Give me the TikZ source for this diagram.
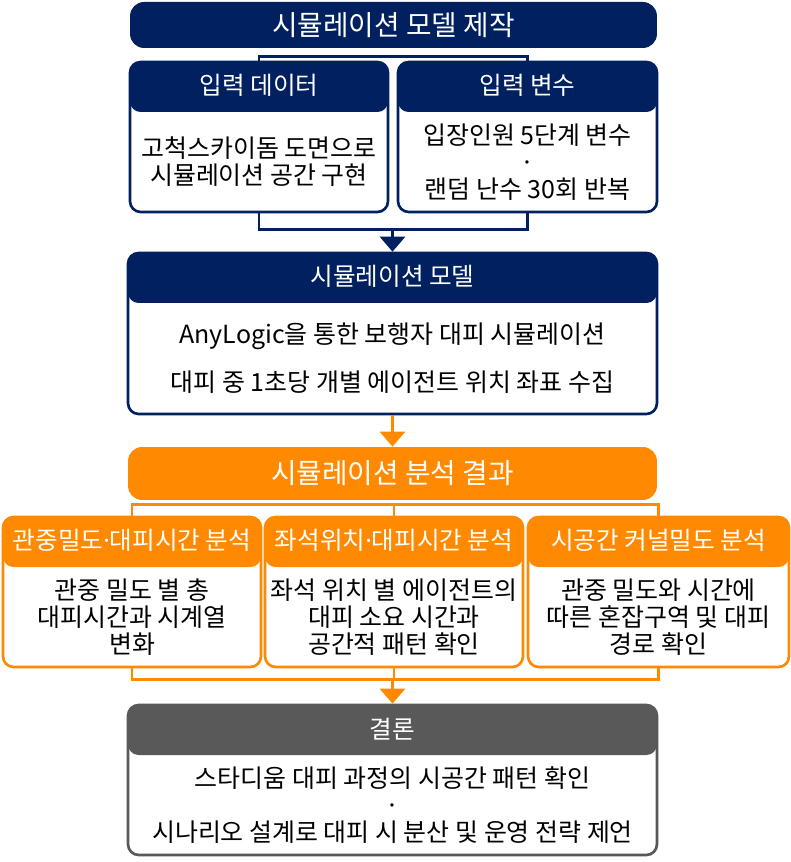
\documentclass[tikz,border=0pt]{standalone}
\usepackage{fontspec}
\setmainfont{Noto Sans CJK KR}
\newfontfamily\latinfont{Noto Sans}
\usetikzlibrary{arrows.meta, positioning, calc}
\definecolor{simnavy}{RGB}{0, 32, 96}
\definecolor{simorange}{RGB}{255, 137, 0}
\definecolor{simgray}{RGB}{89, 89, 89}
\newcommand{\middot}{{\latinfont ·}}

\tikzset{
  panel/.style={draw=#1, fill=white, line width=1.5pt, rounded corners=6pt, inner sep=0pt,
    path picture={\fill[#1] (path picture bounding box.north west) rectangle ([yshift=-1cm]path picture bounding box.north east);}},
  banner/.style={fill=#1, rounded corners=8pt, inner sep=0pt, text=white, font=\fontsize{15.8}{18}\selectfont},
  head/.style={text=white, inner sep=0pt, font=\fontsize{14}{16}\selectfont},
  body/.style={align=center, inner sep=0pt, font=\fontsize{14.2}{15.5}\selectfont},
  link/.style={draw=#1, line width=1.7pt},
  flow/.style={draw=#1, line width=1.7pt, -{Triangle[width=0.5cm,length=0.3cm]}}
}

\begin{document}
\begin{tikzpicture}[x=0.02cm, y=0.02cm]
\useasboundingbox (0,0) rectangle (791,862);

% Model building
\node[banner=simnavy, minimum width=10.54cm, minimum height=0.92cm] (build) at (393.5,837) {시뮬레이션 모델 제작};

% Inputs
\node[panel=simnavy, minimum width=5.16cm, minimum height=3cm] (data) at (259,725) {};
\node[head] (datahead) at ([yshift=-0.5cm]data.north) {입력 데이터};
\node[body] (datatext) at ([yshift=-0.5cm]data.center) {고척스카이돔 도면으로\\시뮬레이션 공간 구현};

\node[panel=simnavy, minimum width=5.18cm, minimum height=3cm] (vars) at (527.5,725) {};
\node[head] (varshead) at ([yshift=-0.5cm]vars.north) {입력 변수};
\node[body] (varstext) at ([yshift=-0.5cm]vars.center) {입장인원 5단계 변수\\·\\랜덤 난수 30회 반복};

\draw[link=simnavy] (data.north) -- ++(0,4) -| (vars.north);
\draw[link=simnavy] (data.south) -- ++(0,-16) coordinate (injoin) -| (vars.south);

% Simulation model
\node[panel=simnavy, minimum width=10.58cm, minimum height=3.22cm] (model) at (392.5,528.5) {};
\node[head] (modelhead) at ([yshift=-0.5cm]model.north) {시뮬레이션 모델};
\node[body] (modeltext) at ([yshift=-0.5cm]model.center) {AnyLogic을 통한 보행자 대피 시뮬레이션\\[12pt]대피 중 1초당 개별 에이전트 위치 좌표 수집};
\draw[flow=simnavy] (injoin -| model.north) -- (model.north);

% Analysis results
\node[banner=simorange, minimum width=10.58cm, minimum height=1.06cm] (results) at (392.5,388.5) {시뮬레이션 분석 결과};
\draw[flow=simorange] (model.south) -- (results.north);

\node[panel=simorange, minimum width=5.16cm, minimum height=3cm] (density) at (132,270) {};
\node[head] (densityhead) at ([yshift=-0.5cm]density.north) {관중밀도\middot 대피시간 분석};
\node[body] (densitytext) at ([yshift=-0.5cm]density.center) {관중 밀도 별 총\\대피시간과 시계열\\변화};

\node[panel=simorange, minimum width=5.16cm, minimum height=3cm] (seat) at (394,270) {};
\node[head] (seathead) at ([yshift=-0.5cm]seat.north) {좌석위치\middot 대피시간 분석};
\node[body] (seattext) at ([yshift=-0.5cm]seat.center) {좌석 위치 별 에이전트의\\대피 소요 시간과\\공간적 패턴 확인};

\node[panel=simorange, minimum width=5.22cm, minimum height=3cm] (kernel) at (658.5,270) {};
\node[head] (kernelhead) at ([yshift=-0.5cm]kernel.north) {시공간 커널밀도 분석};
\node[body] (kerneltext) at ([yshift=-0.5cm]kernel.center) {관중 밀도와 시간에\\따른 혼잡구역 및 대피\\경로 확인};

\draw[link=simorange] (density.north) -- ++(0,11) -| (kernel.north);
\draw[link=simorange] (seat.north) -- ++(0,11);
\draw[link=simorange] (density.south) -- ++(0,-11) coordinate (outjoin) -| (kernel.south);
\draw[link=simorange] (seat.south) -- ++(0,-11);

% Conclusion
\node[panel=simgray, minimum width=10.58cm, minimum height=3cm] (concl) at (392.5,82) {};
\node[head] (conclhead) at ([yshift=-0.5cm]concl.north) {결론};
\node[body] (concltext) at ([yshift=-0.5cm]concl.center) {스타디움 대피 과정의 시공간 패턴 확인\\·\\시나리오 설계로 대피 시 분산 및 운영 전략 제언};
\draw[flow=simorange] (outjoin -| concl.north) -- (concl.north);
\end{tikzpicture}
\end{document}
